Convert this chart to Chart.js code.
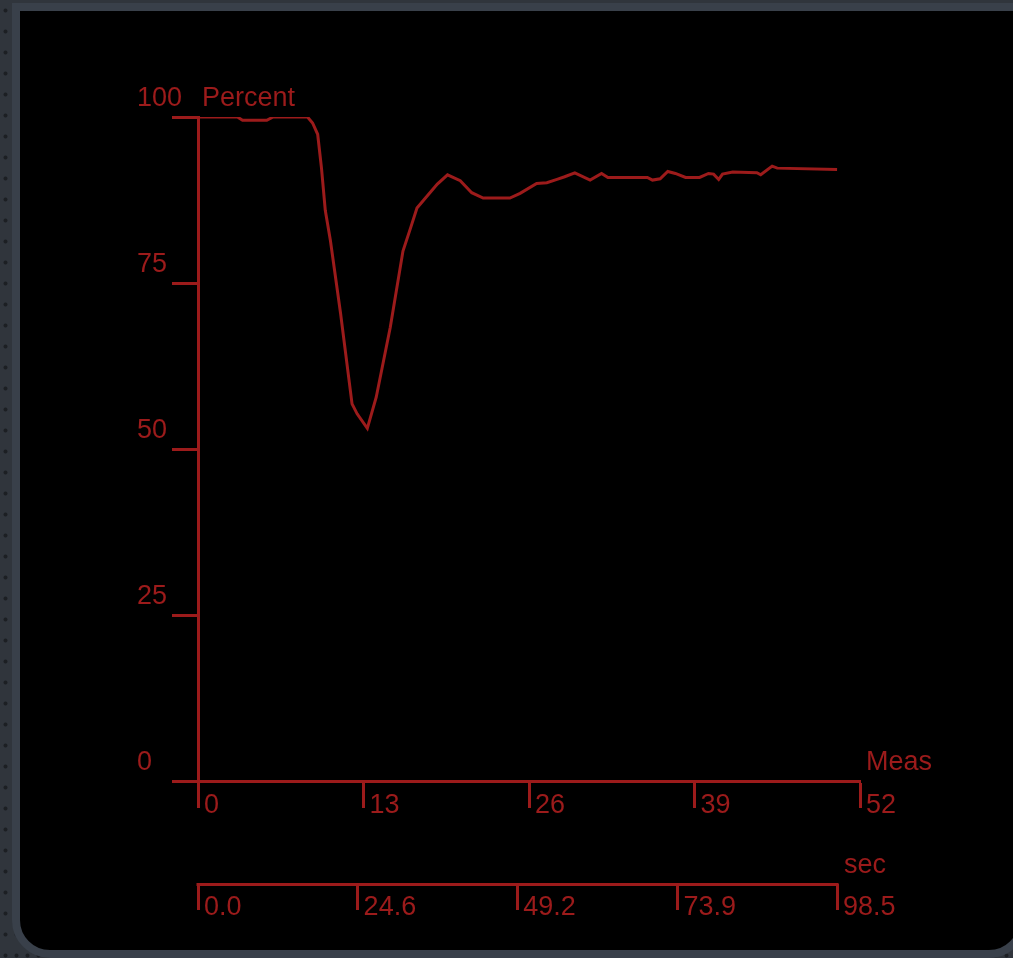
<!DOCTYPE html>
<html>
<head>
<meta charset="utf-8">
<title>Percent vs Meas</title>
<script src="https://cdn.jsdelivr.net/npm/chart.js@4.4.1/dist/chart.umd.min.js"></script>
<style>
  html, body { margin: 0; padding: 0; }
  body {
    width: 1013px; height: 958px; overflow: hidden; position: relative;
    background-color: #30353c;
    background-image: radial-gradient(circle, #1c1f23 1.6px, rgba(0,0,0,0) 2.4px);
    background-size: 11px 21px;
    background-position: 0px 0px;
  }
  .frame {
    position: absolute; left: 12px; top: 3px;
    width: 1015px; height: 955px; box-sizing: border-box;
    border: 8px solid #39404a; border-radius: 0 0 38px 38px;
    background: #000;
  }
  #chart { position: absolute; left: 0; top: 0; }
</style>
</head>
<body>
<div class="frame"></div>
<canvas id="chart" width="1013" height="958"></canvas>
<script>
// Measurement index (Meas) of each recorded point
const measX = [
  0, 3.1, 3.5, 5.4, 5.9, 8.6, 9.0, 9.4, 9.7, 10.0,
  10.4, 11.2, 12.1, 12.5, 13.3, 14.0, 15.1, 16.1, 16.7, 17.2,
  18.0, 18.8, 19.6, 20.6, 21.5, 22.4, 24.5, 25.3, 26.6, 27.4,
  28.2, 28.8, 29.6, 30.8, 31.7, 32.2, 35.3, 35.7, 36.3, 36.9,
  37.5, 38.3, 39.4, 40.1, 40.5, 40.9, 41.2, 42.0, 43.9, 44.2,
  45.1, 45.5, 50.2
];
// Recorded level in percent
const percentY = [
  100, 100, 99.5, 99.5, 100, 100, 99.1, 97.4, 92.3, 85.9,
  81.4, 70.4, 56.8, 55.3, 53.1, 57.8, 68.3, 79.8, 83.3, 86.3,
  88.1, 89.9, 91.3, 90.4, 88.6, 87.8, 87.8, 88.5, 90.0, 90.1,
  90.6, 91.0, 91.6, 90.5, 91.5, 90.9, 90.9, 90.5, 90.7, 91.8,
  91.5, 90.9, 90.9, 91.5, 91.4, 90.6, 91.4, 91.7, 91.6, 91.3,
  92.6, 92.3, 92.1
];

// Axis tick values
const percentTicks = [0, 25, 50, 75, 100];
const measTicks = [0, 13, 26, 39, 52];
const secTicks = [0.0, 24.6, 49.2, 73.9, 98.5];

const RED = '#9c1b1b';
const FONT = { family: '"Liberation Sans", Arial, sans-serif', size: 27 };

// Elapsed seconds span the recorded samples
const lastMeas = measX[measX.length - 1];
const secEnd = secTicks[secTicks.length - 1];
const secPerMeas = secEnd / lastMeas;
const measMax = measTicks[measTicks.length - 1];

const axisGrid = (len) => ({
  display: true, drawOnChartArea: false, drawTicks: true,
  tickLength: len, tickWidth: 3, tickColor: RED, color: RED
});

// Axis titles and the seconds base line
const axisDecor = {
  id: 'axisDecor',
  afterDraw(chart) {
    const { ctx } = chart;
    const y = chart.scales.y, x = chart.scales.x, s = chart.scales.sec;
    ctx.save();
    ctx.strokeStyle = RED;
    ctx.lineWidth = 3;
    const sy = Math.round(s.top) + 0.5;
    ctx.beginPath();
    ctx.moveTo(s.getPixelForValue(0) - 1.5, sy);
    ctx.lineTo(s.getPixelForValue(secEnd) + 1.5, sy);
    ctx.stroke();

    ctx.fillStyle = RED;
    ctx.font = FONT.size + 'px ' + FONT.family;
    ctx.textAlign = 'left';
    ctx.textBaseline = 'middle';
    ctx.fillText('Percent', y.right + 4, y.getPixelForValue(100) - 18);
    ctx.fillText('Meas', x.getPixelForValue(measMax) + 6, x.top - 18);
    ctx.fillText('sec', s.getPixelForValue(secEnd) + 7, s.top - 18);
    ctx.restore();
  }
};

new Chart(document.getElementById('chart'), {
  type: 'line',
  data: {
    datasets: [{
      data: measX.map((m, i) => ({ x: m, y: percentY[i] })),
      borderColor: RED,
      borderWidth: 3,
      pointRadius: 0,
      tension: 0,
      fill: false,
      xAxisID: 'x',
      yAxisID: 'y'
    }]
  },
  options: {
    responsive: false,
    animation: false,
    devicePixelRatio: 1,
    layout: { padding: { left: 137, top: 117, right: 153, bottom: 0 } },
    plugins: { legend: { display: false }, tooltip: { enabled: false } },
    scales: {
      y: {
        type: 'linear', position: 'left', min: 0, max: 100,
        afterBuildTicks: (sc) => { sc.ticks = percentTicks.map(v => ({ value: v })); },
        afterFit: (sc) => { sc.width = 61; },
        grid: axisGrid(26),
        border: { display: true, color: RED, width: 3 },
        ticks: {
          color: RED, font: FONT, crossAlign: 'far', labelOffset: -18, padding: 0,
          callback: (v) => String(v)
        }
      },
      x: {
        type: 'linear', position: 'bottom', min: 0, max: measMax, weight: 0,
        afterBuildTicks: (sc) => { sc.ticks = measTicks.map(v => ({ value: v })); },
        afterFit: (sc) => { sc.height = 103; },
        grid: axisGrid(27),
        border: { display: true, color: RED, width: 3 },
        ticks: {
          color: RED, font: FONT, align: 'start', labelOffset: 6, padding: -19,
          maxRotation: 0, autoSkip: false, callback: (v) => String(v)
        }
      },
      sec: {
        type: 'linear', position: 'bottom', min: 0, max: measMax * secPerMeas, weight: 1,
        afterBuildTicks: (sc) => { sc.ticks = secTicks.map(v => ({ value: v })); },
        afterFit: (sc) => { sc.height = 74; },
        grid: axisGrid(26),
        border: { display: false },
        ticks: {
          color: RED, font: FONT, align: 'start', labelOffset: 6, padding: -19,
          maxRotation: 0, autoSkip: false, callback: (v) => v.toFixed(1)
        }
      }
    }
  },
  plugins: [axisDecor]
});
</script>
</body>
</html>
